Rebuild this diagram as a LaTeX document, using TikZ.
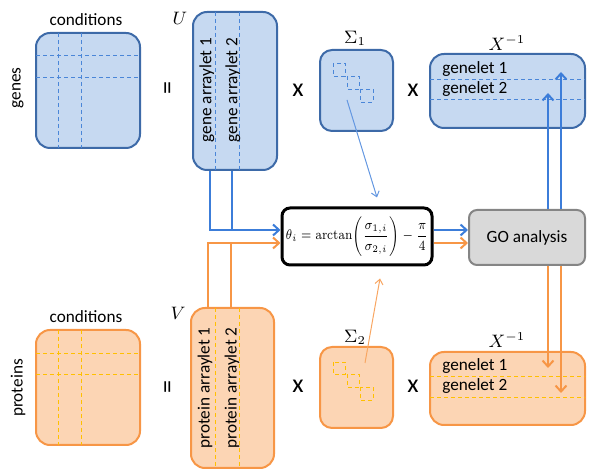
\documentclass[tikz,border=0pt]{standalone}
\usepackage{amsmath, amssymb}
\usepackage[no-math]{fontspec}
\setmainfont{Carlito}
\usepackage{tikz}
\usetikzlibrary{arrows.meta, positioning, calc, fit}

\definecolor{gnfill}{HTML}{C6D9F1}
\definecolor{gnedge}{HTML}{3D6AA8}
\definecolor{gndash}{HTML}{4A86D8}
\definecolor{gnarrow}{HTML}{3C7DD9}
\definecolor{prfill}{HTML}{FCD5B4}
\definecolor{predge}{HTML}{F79646}
\definecolor{prdash}{HTML}{FFC000}
\definecolor{prarrow}{HTML}{F79646}
\definecolor{gofill}{HTML}{D9D9D9}
\definecolor{goedge}{HTML}{858585}

\begin{document}
\begin{tikzpicture}[x=0.5pt, y=-0.5pt,
    box/.style={rounded corners=7pt, line width=1pt, inner sep=0pt},
    genebox/.style={box, draw=gnedge, fill=gnfill},
    protbox/.style={box, draw=predge, fill=prfill},
    gdash/.style={draw=gndash, line width=0.4pt, dash pattern=on 2pt off 1.5pt},
    pdash/.style={draw=prdash, line width=0.4pt, dash pattern=on 2pt off 1.5pt},
    txt/.style={font=\fontsize{8.6}{10}\selectfont, inner sep=0pt},
    sym/.style={font=\fontsize{9}{10}\selectfont, inner sep=0pt},
    op/.style={font=\fontsize{13}{14}\selectfont, inner sep=0pt},
    garr/.style={draw=gnarrow, line width=1pt, -{Straight Barb[length=3pt, width=5.5pt]}},
    parr/.style={draw=prarrow, line width=1pt, -{Straight Barb[length=3pt, width=5.5pt]}},
    gline/.style={draw=gnarrow, line width=1pt},
    pline/.style={draw=prarrow, line width=1pt},
    thin/.style={line width=0.5pt, -{Straight Barb[length=2.5pt, width=4pt]}}]

    \useasboundingbox (0,0) rectangle (600,475);

    % genes
    \node[genebox, fit={(36,33) (140,148)}] (gmat) {};
    \draw[gdash] (58,33) -- (58,148) (81,33) -- (81,148) (36,55) -- (140,55) (36,77) -- (140,77);
    \node[txt] (gcond) at (86,20) {conditions};
    \node[txt, rotate=90] (genes) at (18,88) {genes};
    \node[op, rotate=90] (geq) at (170,88) {=};

    \node[genebox, fit={(193,12) (277,170)}] (U) {};
    \draw[gdash] (215,12) -- (215,170) (239,12) -- (239,170);
    \node[sym] (Ulab) at (180,18) {$U$};
    \node[txt, rotate=90] (ga1) at (207,90) {gene arraylet 1};
    \node[txt, rotate=90] (ga2) at (233,90) {gene arraylet 2};
    \node[op] (gx1) at (298,90) {x};

    \node[genebox, rounded corners=6pt, fit={(320,50) (393,131)}] (S1) {};
    \draw[gdash] (333,63) rectangle (345,76) (347,76) rectangle (359,89) (360,89) rectangle (373,102);
    \node[sym] (S1lab) at (355,38) {$\Sigma_1$};
    \node[op] (gx2) at (413,90) {x};

    \node[genebox, fit={(430,54) (585,128)}] (X1) {};
    \draw[gdash] (430,79) -- (585,79) (430,99) -- (585,99);
    \node[sym] (X1lab) at (507,43) {$X^{-1}$};
    \node[txt, anchor=west] (gl1) at (442,69) {genelet 1};
    \node[txt, anchor=west] (gl2) at (442,89) {genelet 2};

    % proteins
    \node[protbox, fit={(36,330) (140,445)}] (pmat) {};
    \draw[pdash] (58,330) -- (58,445) (81,330) -- (81,445) (36,353) -- (140,353) (36,374) -- (140,374);
    \node[txt] (pcond) at (86,317) {conditions};
    \node[txt, rotate=90] (prot) at (18,388) {proteins};
    \node[op, rotate=90] (peq) at (170,387) {=};

    \node[protbox, fit={(191,308) (274,468)}] (V) {};
    \draw[pdash] (215,308) -- (215,468) (239,308) -- (239,468);
    \node[sym] (Vlab) at (178,313) {$V$};
    \node[txt, rotate=90] (pa1) at (205,388) {protein arraylet 1};
    \node[txt, rotate=90] (pa2) at (232,388) {protein arraylet 2};
    \node[op] (px1) at (298,386) {x};

    \node[protbox, rounded corners=6pt, fit={(320,347) (393,428)}] (S2) {};
    \draw[pdash] (333,362) rectangle (345,374) (347,374) rectangle (359,387) (360,387) rectangle (373,400);
    \node[sym] (S2lab) at (355,337) {$\Sigma_2$};
    \node[op] (px2) at (413,386) {x};

    \node[protbox, fit={(430,352) (585,425)}] (X2) {};
    \draw[pdash] (430,376) -- (585,376) (430,397) -- (585,397);
    \node[sym] (X2lab) at (507,340) {$X^{-1}$};
    \node[txt, anchor=west] (pl1) at (442,366) {genelet 1};
    \node[txt, anchor=west] (pl2) at (442,386) {genelet 2};

    % middle
    \node[draw=black, fill=white, line width=1.5pt, rounded corners=4pt, minimum width=75pt,
          minimum height=28.5pt, inner sep=0pt, font=\fontsize{6.6}{8}\selectfont] (th) at (357,236.5)
          {\scalebox{0.84}[1]{$\displaystyle \theta_i = \arctan\!\left(\frac{\sigma_{1,i}}{\sigma_{2,i}}\right) - \frac{\pi}{4}$}};
    \node[fill=gofill, draw=goedge, line width=1pt, rounded corners=4pt, minimum width=58pt,
          minimum height=27.5pt, inner sep=0pt, txt] (GO) at (527,237.5) {GO analysis};

    \coordinate (gj) at ([yshift=3.25pt]th.west);
    \coordinate (pj) at ([yshift=-3.25pt]th.west);
    \coordinate (ua) at ($(U.south)+(-25,0)$);
    \coordinate (ub) at ($(U.south)+(-3,0)$);
    \coordinate (va) at ($(V.north)+(-24.5,0)$);
    \coordinate (vb) at ($(V.north)+(-1.5,0)$);
    \draw[garr] (ua) |- (gj);
    \draw[gline] (ub) -- (ub |- gj);
    \draw[parr] (va) |- (pj);
    \draw[pline] (vb) -- (vb |- pj);
    \draw[garr] ([yshift=3.25pt]th.east) -- (GO.west |- gj);
    \draw[parr] ([yshift=-3.25pt]th.east) -- (GO.west |- pj);

    \coordinate (up2) at (548,93);
    \coordinate (up1) at (561,72);
    \coordinate (dn1) at (548,368);
    \coordinate (dn2) at (561,393);
    \draw[garr] (GO.north -| up2) -- (up2);
    \draw[garr] (GO.north -| up1) -- (up1);
    \draw[parr] (GO.south -| dn1) -- (dn1);
    \draw[parr] (GO.south -| dn2) -- (dn2);

    \coordinate (s1) at (347,100);
    \coordinate (s2) at (365,363);
    \draw[thin, draw=gnarrow!80] (s1) -- ($(th.north)+(20,-9)$);
    \draw[thin, draw=prarrow!85] (s2) -- ($(th.south)+(23,12)$);
\end{tikzpicture}
\end{document}
